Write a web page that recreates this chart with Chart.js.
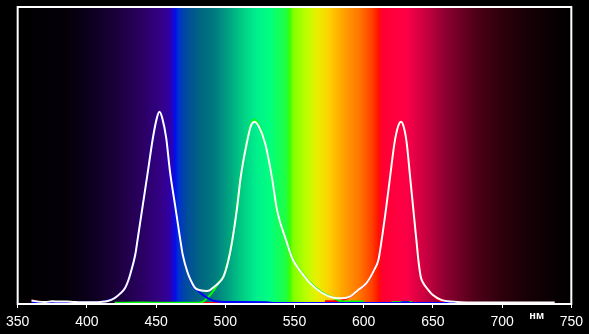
<!DOCTYPE html>
<html>
<head>
<meta charset="utf-8">
<script src="https://cdn.jsdelivr.net/npm/chart.js@4.4.0/dist/chart.umd.min.js"></script>
<style>
	html, body { margin: 0; padding: 0; background: #000; }
	#wrap { width: 589px; height: 334px; }
</style>
</head>
<body>
<div id="wrap"><canvas id="myChart"></canvas></div>
<script>
// wavelength (nm) / relative intensity
const whiteNm = [360, 365, 370, 375, 380, 385, 390, 395, 400, 405, 410, 415, 420, 424, 427.6, 430, 431.8, 434.9, 436.8, 440.4, 444, 447.7, 450.5, 452.4, 454.5, 457.3, 460.1, 463.7, 467.3, 469.3, 472.6, 475, 478.2, 482, 486.7, 489, 492, 495.1, 498.7, 502.3, 504.7, 508.3, 511.2, 515.5, 518.5, 521.1, 524, 528.8, 533.6, 537.4, 544.7, 548, 551, 554, 557, 561, 570, 578, 583, 590, 596, 602, 607.5, 610.6, 612.6, 616, 619.1, 622.2, 625, 627, 629, 631.1, 633.5, 635.9, 638.3, 639.5, 641.2, 643.1, 646.7, 650, 656.4, 665, 670, 680, 700, 720, 738];
const whiteVal = [0.012, 0.008, 0.007, 0.009, 0.008, 0.008, 0.007, 0.006, 0.006, 0.006, 0.007, 0.010, 0.020, 0.035, 0.054, 0.080, 0.108, 0.165, 0.222, 0.333, 0.444, 0.559, 0.625, 0.647, 0.625, 0.559, 0.444, 0.333, 0.222, 0.165, 0.108, 0.080, 0.054, 0.046, 0.044, 0.047, 0.058, 0.070, 0.092, 0.148, 0.204, 0.316, 0.429, 0.541, 0.600, 0.614, 0.600, 0.541, 0.429, 0.316, 0.204, 0.158, 0.132, 0.112, 0.094, 0.071, 0.037, 0.021, 0.019, 0.025, 0.047, 0.070, 0.114, 0.148, 0.204, 0.316, 0.429, 0.541, 0.600, 0.614, 0.595, 0.541, 0.429, 0.316, 0.204, 0.148, 0.092, 0.070, 0.047, 0.030, 0.013, 0.008, 0.006, 0.005, 0.005, 0.005, 0.005];

const blueNm = [360, 380, 400, 420, 424, 427.6, 430, 431.8, 434.9, 436.8, 440.4, 444, 447.7, 450.5, 452.4, 454.5, 457.3, 460.1, 463.7, 467.3, 469.3, 472.6, 476, 480, 484, 488, 492, 500, 530, 536, 600, 626, 628, 632, 634, 670];
const blueVal = [0.006, 0.005, 0.005, 0.020, 0.035, 0.054, 0.080, 0.108, 0.165, 0.222, 0.333, 0.444, 0.559, 0.625, 0.647, 0.625, 0.559, 0.444, 0.333, 0.222, 0.165, 0.108, 0.065, 0.045, 0.030, 0.018, 0.010, 0.007, 0.006, 0.003, 0.003, 0.003, 0.006, 0.006, 0.003, 0.003];

const greenNm = [420, 440, 460, 480, 484, 488, 492, 495.1, 498.7, 502.3, 504.7, 508.3, 511.2, 515.5, 518.5, 521.1, 524, 528.8, 533.6, 537.4, 544.7, 548, 551, 554, 557, 561, 570, 578, 583, 590, 600, 605, 618, 620, 635, 637];
const greenVal = [0.004, 0.005, 0.004, 0.004, 0.008, 0.025, 0.048, 0.072, 0.094, 0.150, 0.206, 0.318, 0.431, 0.545, 0.606, 0.620, 0.606, 0.543, 0.431, 0.318, 0.206, 0.160, 0.134, 0.114, 0.096, 0.073, 0.039, 0.021, 0.010, 0.008, 0.008, null, null, 0.006, 0.006, null];

const redNm = [360, 365, 370, 478, 498, 500, 572, 584, 590, 596, 602, 607.5, 610.6, 612.6, 616, 619.1, 622.2, 625, 627, 629, 631.1, 633.5, 635.9, 638.3, 639.5, 641.2, 643.1, 646.7, 650, 656.4, 660, 668];
const redVal = [0.012, 0.008, null, 0.003, 0.003, null, 0.009, 0.012, 0.024, 0.046, 0.069, 0.113, 0.147, 0.203, 0.315, 0.428, 0.540, 0.599, 0.613, 0.594, 0.540, 0.428, 0.315, 0.203, 0.147, 0.091, 0.069, 0.046, 0.029, 0.010, 0.006, 0.004];

const xTicks = [350, 400, 450, 500, 550, 600, 650, 700, 750];
const unitLabel = 'нм';

function toPoints(xs, ys) {
	return xs.map((x, i) => ({ x: x, y: ys[i] }));
}

// visible spectrum painted behind the plot
const spectrum = [
	[350, '#000000'], [385, '#040008'], [400, '#0a001a'], [420, '#1a0038'], [440, '#2a0062'],
	[455, '#34008a'], [461, '#2c00b0'], [464, '#0010f0'], [466, '#0030d0'], [472, '#004c9c'],
	[482, '#006680'], [492, '#007a80'], [502, '#00a080'], [512, '#00cc84'], [522, '#00ee8c'],
	[532, '#00ff80'], [544, '#20ff40'], [547, '#40ff00'], [549, '#80ff00'], [558, '#b8ff00'],
	[566, '#e8f000'], [575, '#ffd000'], [586, '#ffa000'], [598, '#ff7000'], [606, '#ff4000'],
	[611, '#ff1000'], [613, '#ff0030'], [630, '#ff0048'], [645, '#c80040'], [660, '#8a0030'],
	[680, '#500018'], [700, '#2c000c'], [720, '#160006'], [740, '#060002'], [750, '#000000']
];

const spectrumPlugin = {
	id: 'spectrum',
	beforeDatasetsDraw(chart) {
		const { ctx, chartArea, scales } = chart;
		const x0 = scales.x.getPixelForValue(350);
		const x1 = scales.x.getPixelForValue(750);
		const g = ctx.createLinearGradient(x0, 0, x1, 0);
		spectrum.forEach(s => g.addColorStop((s[0] - 350) / 400, s[1]));
		ctx.save();
		ctx.fillStyle = g;
		ctx.fillRect(chartArea.left, chartArea.top, chartArea.right - chartArea.left, chartArea.bottom - chartArea.top);
		ctx.restore();
	},
	afterDraw(chart) {
		const { ctx, chartArea, scales } = chart;
		ctx.save();
		ctx.strokeStyle = '#ffffff';
		ctx.lineWidth = 2;
		ctx.strokeRect(chartArea.left, chartArea.top, chartArea.right - chartArea.left, chartArea.bottom - chartArea.top);
		ctx.fillStyle = '#ffffff';
		ctx.font = 'bold 11px "Liberation Sans", Arial, sans-serif';
		ctx.textAlign = 'center';
		ctx.textBaseline = 'middle';
		ctx.fillText(unitLabel, scales.x.getPixelForValue(725), chartArea.bottom + 12);
		ctx.restore();
	}
};

new Chart(document.getElementById('myChart'), {
	type: 'line',
	data: {
		datasets: [
			{ data: toPoints(whiteNm, whiteVal), borderColor: '#ffffff', borderWidth: 2 },
			{ data: toPoints(blueNm, blueVal), borderColor: '#0000ff', borderWidth: 2 },
			{ data: toPoints(greenNm, greenVal), borderColor: '#00ff00', borderWidth: 2 },
			{ data: toPoints(redNm, redVal), borderColor: '#ff0000', borderWidth: 2 }
		]
	},
	options: {
		responsive: true,
		maintainAspectRatio: false,
		animation: false,
		events: [],
		layout: { padding: { left: 17, right: 17, top: 7, bottom: 0 } },
		elements: {
			point: { radius: 0 },
			line: { cubicInterpolationMode: 'monotone', fill: false }
		},
		plugins: { legend: { display: false }, tooltip: { enabled: false } },
		scales: {
			x: {
				type: 'linear',
				min: 350,
				max: 750,
				afterBuildTicks: axis => { axis.ticks = xTicks.map(v => ({ value: v })); },
				afterFit: axis => { axis.height = 30; },
				border: { display: false },
				grid: { drawOnChartArea: false, drawTicks: true, tickLength: 4, color: '#ffffff', lineWidth: 1 },
				ticks: {
					color: '#ffffff',
					padding: 6,
					maxRotation: 0,
					font: { family: '"Liberation Sans", Arial, sans-serif', size: 14 }
				}
			},
			y: { display: false, min: 0, max: 1 }
		}
	},
	plugins: [spectrumPlugin]
});
</script>
</body>
</html>
